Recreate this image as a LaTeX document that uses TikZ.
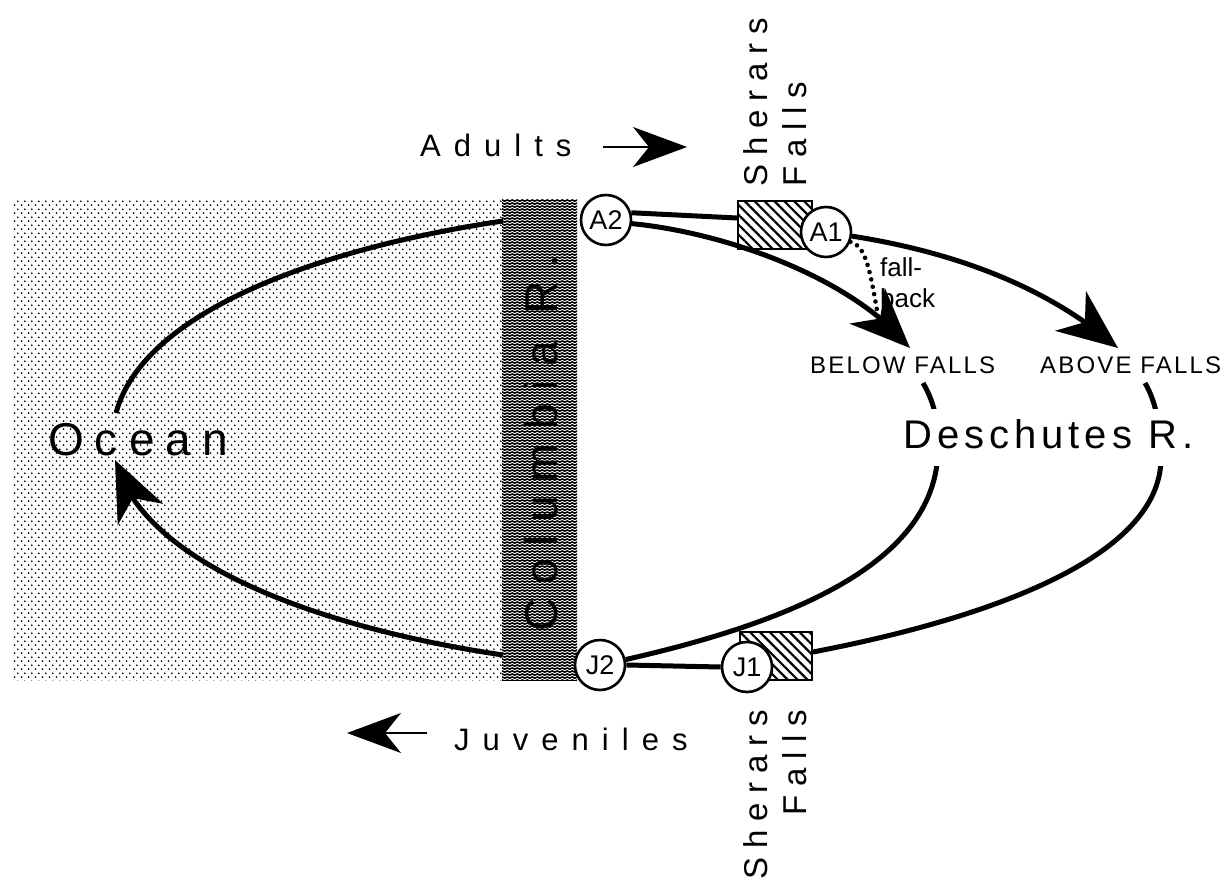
\documentclass[tikz,border=0pt]{standalone}
\usepackage{fontspec}
\setmainfont{Liberation Sans}
\usetikzlibrary{arrows.meta,bending,patterns,patterns.meta,calc}

% fine staggered dot screen for the ocean
\tikzdeclarepattern{
  name=oceandots,
  type=uncolored,
  bottom left={(0pt,0pt)},
  top right={(6.7pt,7.8pt)},
  tile size={(6.7pt,7.8pt)},
  code={
    \pgfpathcircle{\pgfpoint{1.675pt}{1.95pt}}{1pt}
    \pgfpathcircle{\pgfpoint{5.025pt}{5.85pt}}{1pt}
    \pgfusepath{fill}
  }
}

% dense wavy lines for the river band
\tikzdeclarepattern{
  name=riverwaves,
  type=uncolored,
  bottom left={(0pt,0pt)},
  top right={(5.4pt,3.4pt)},
  tile size={(5.4pt,3.4pt)},
  code={
    \pgfsetlinewidth{1.9pt}
    \pgfpathmoveto{\pgfpoint{0pt}{1.7pt}}
    \pgfpathsine{\pgfpoint{1.35pt}{0.7pt}}
    \pgfpathcosine{\pgfpoint{1.35pt}{-0.7pt}}
    \pgfpathsine{\pgfpoint{1.35pt}{-0.7pt}}
    \pgfpathcosine{\pgfpoint{1.35pt}{0.7pt}}
    \pgfusepath{stroke}
  }
}

\begin{document}
\begin{tikzpicture}[x=1pt,y=-1pt,
  station/.style={circle, draw, line width=2.6pt, fill=white,
    minimum size=50pt, inner sep=0pt, font=\fontsize{27}{32}\selectfont},
  fallsbox/.style={draw, line width=1.8pt, inner sep=0pt,
    pattern={Lines[angle=-45,distance=7pt,line width=2.2pt]}},
  route/.style={line width=5pt},
  bighead/.style={-{Stealth[length=60pt,width=50pt,inset=18pt]}},
  smallhead/.style={line width=1.8pt,-{Stealth[length=54pt,width=40pt,inset=16pt]}},
  fallback/.style={line width=4.6pt, line cap=round, dash pattern=on 0pt off 7.5pt},
  plain/.style={inner sep=0pt},
  flowfont/.style={font=\fontsize{31}{36}\selectfont\addfontfeature{LetterSpace=42}},
  bigfont/.style={font=\fontsize{46}{52}\selectfont\addfontfeature{LetterSpace=30}},
  sitefont/.style={font=\fontsize{33}{39}\selectfont\addfontfeature{LetterSpace=27}},
  reachfont/.style={font=\fontsize{24}{28}\selectfont\addfontfeature{LetterSpace=9}}
]
\useasboundingbox (0,0) rectangle (1230,882);

% ocean and Columbia River band
\fill[pattern=oceandots] (12,199) rectangle (502,680);
\fill[pattern=riverwaves] (502,199) rectangle (577,680);
\node[plain, bigfont, rotate=90, anchor=base west] (columbia) at (557,632) {Columbia R.};
\node[plain, font=\fontsize{46}{52}\selectfont\addfontfeature{LetterSpace=24}, anchor=base west] (ocean) at (48,455) {Ocean};

% Sherars Falls barriers
\node[fallsbox, minimum width=74pt, minimum height=48pt] (fallsA) at (775,225) {};
\node[fallsbox, minimum width=72pt, minimum height=48pt] (fallsB) at (776,656) {};

% counting stations
\node[station] (A2) at (606,220) {A2};
\node[station] (A1) at (826,232) {A1};
\node[station] (J2) at (600,665) {J2};
\node[station] (J1) at (747,667) {J1};

% reach labels
\node[plain, reachfont, anchor=base west] (below) at (810,373) {BELOW FALLS};
\node[plain, reachfont, anchor=base west] (above) at (1040,373) {ABOVE FALLS};
\node[plain, align=left, font=\fontsize{26}{31}\selectfont, anchor=base west] (fbtext) at (880,308) {fall-\\back};

% free ends of connectors
\coordinate (belowtip) at (910,348);
\coordinate (abovetip) at (1118,348);
\coordinate (fallbackend) at (878,316);
\coordinate (belowout) at (923,383);
\coordinate (aboveout) at (1145,383);
\coordinate (coltop) at (503,221);
\coordinate (colbot) at (503,655);
\coordinate (oceanin) at (116,413);
\coordinate (oceantip) at (115,460);
\coordinate (adultsfrom) at (603,147);
\coordinate (adultsto) at (687,147);
\coordinate (juvfrom) at (427,733);
\coordinate (juvto) at (347,733);

% adult routes
\draw[route] (A2.16) -- ($(fallsA.west)+(0,-7)$);
\draw[route, bighead] (A2.-8) .. controls (720,232) and (850,275) .. (belowtip);
\draw[route, bighead] (A1.-9) .. controls (940,250) and (1040,280) .. (abovetip);
\draw[fallback] (A1.-22) .. controls (866,246) and (870,270) .. (fallbackend);

% juvenile routes
\draw[route] (belowout) .. controls (933,400) and (939,420) .. (938,450)
  .. controls (936,560) and (800,620) .. (J2.12);
\draw[route] (aboveout) .. controls (1155,400) and (1161,425) .. (1161,458)
  .. controls (1161,560) and (980,620) .. ($(fallsB.east)+(0,-4)$);
\draw[route] (J1.west) -- (J2.east);

% ocean loop
\draw[route] (coltop) .. controls (340,245) and (145,305) .. (oceanin);
\draw[route, bighead] (colbot) .. controls (340,631) and (145,571) .. (oceantip);

% Deschutes label breaks the two return lines
\node[fill=white, inner xsep=2pt, inner ysep=9pt, text height=30pt, text depth=9pt,
  font=\fontsize{40}{46}\selectfont\addfontfeature{LetterSpace=12.5}, anchor=base west]
  (deschutes) at (901,448) {Deschutes R.};

% direction of travel
\node[plain, flowfont, anchor=base west] (adults) at (420,157) {Adults};
\draw[smallhead] (adultsfrom) -- (adultsto);
\node[plain, flowfont, anchor=base west] (juveniles) at (454,750) {Juveniles};
\draw[smallhead] (juvfrom) -- (juvto);

% site names
\node[plain, sitefont, rotate=90, align=left, anchor=south west] (siteA) at (807,187) {Sherars\\Falls};
\node[plain, sitefont, rotate=90, align=right, anchor=south east] (siteB) at (807,710) {Sherars\\Falls};
\end{tikzpicture}
\end{document}
